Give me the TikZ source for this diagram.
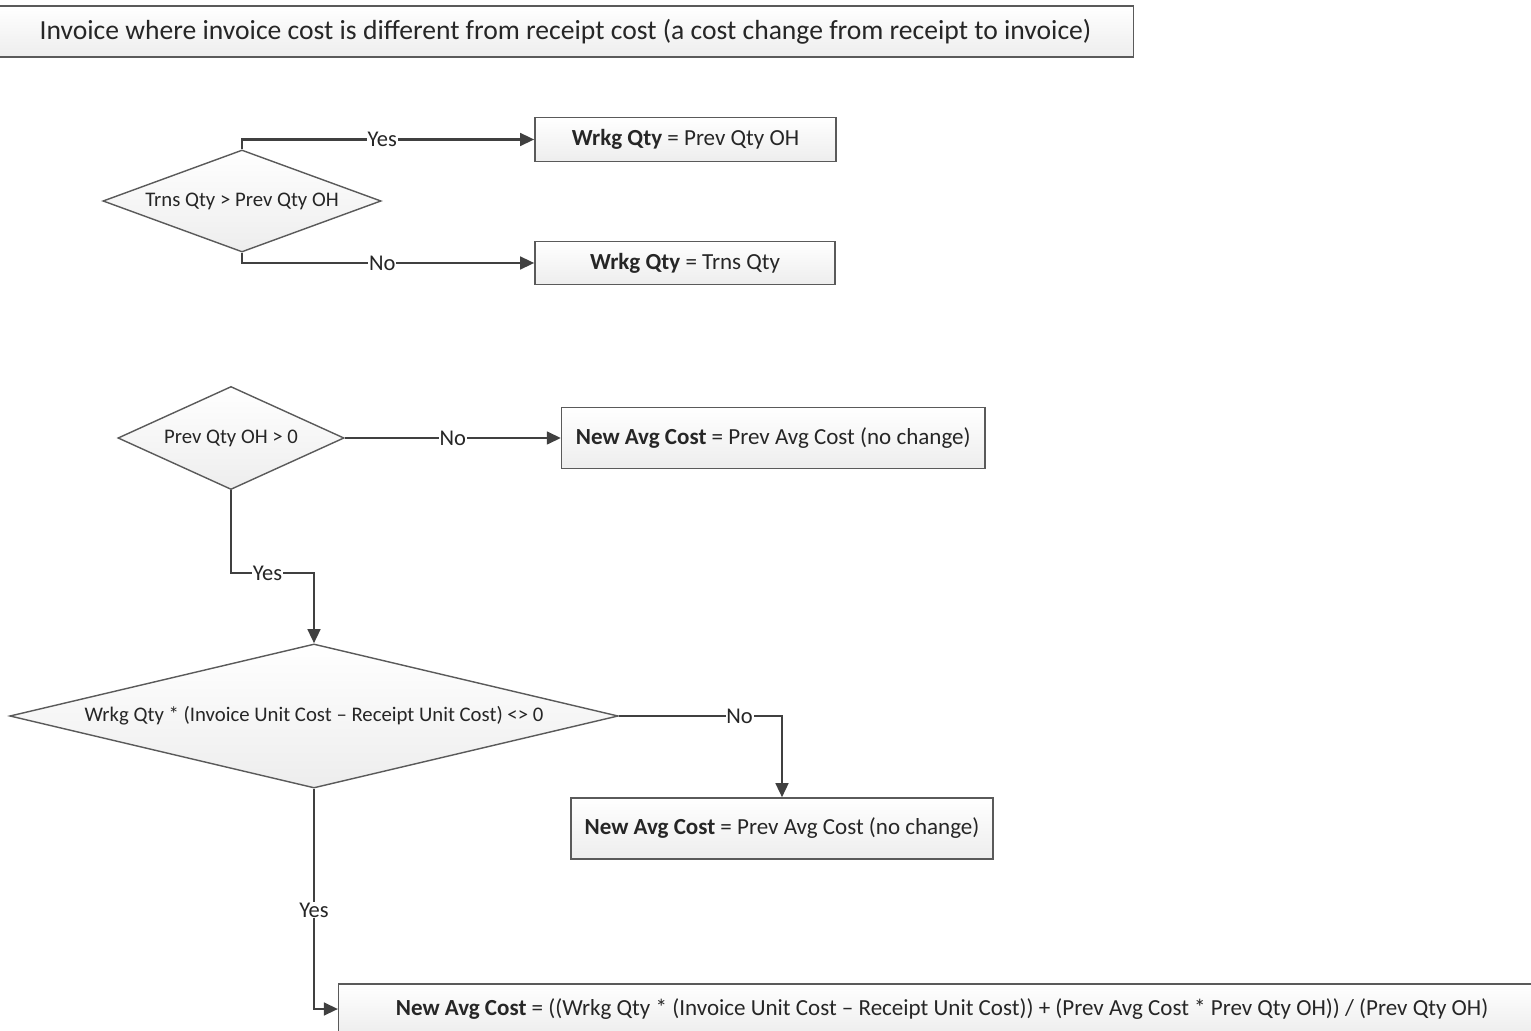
\documentclass[tikz,border=0pt]{standalone}
\usepackage{fontspec}
\setmainfont{Carlito}
\usepackage{xcolor}
\usetikzlibrary{shapes.geometric, arrows.meta, positioning, calc}
\definecolor{linegray}{HTML}{404040}
\definecolor{edgegray}{HTML}{5A5A5A}
\definecolor{txtgray}{HTML}{262626}
\tikzset{
  titlebox/.style={rectangle, draw=edgegray, line width=0.4pt, top color=white, bottom color=black!7, minimum height=0.51cm, align=center, font=\fontsize{7.85}{9}\selectfont, text=txtgray},
  procbox/.style={rectangle, draw=edgegray, line width=0.4pt, top color=white, bottom color=black!7, align=center, font=\fontsize{6.55}{8}\selectfont, text=txtgray},
  decbox/.style={diamond, draw=edgegray, line width=0.4pt, top color=white, bottom color=black!7, inner sep=0pt, align=center, font=\fontsize{5.9}{7}\selectfont, text=txtgray},
  arr/.style={-{Triangle[length=4pt, width=3.6pt]}, line width=0.7pt, draw=linegray},
  lbl/.style={fill=white, inner sep=0.2pt, font=\fontsize{6.4}{8}\selectfont, text=txtgray},
}

\begin{document}
\begin{tikzpicture}[x=0.01cm, y=-0.01cm]
  \useasboundingbox (0,0) rectangle (1531,1031);
  \fill[white] (0,0) rectangle (1531,1031);

  % Heading
  \node[titlebox, minimum width=11.35cm] (head) at (565.5,31.5) {Invoice where invoice cost is different from receipt cost (a cost change from receipt to invoice)};

  % Working quantity
  \node[decbox, aspect=2.7, minimum width=2.78cm, minimum height=1.02cm] (qty) at (242,201) {Trns Qty > Prev Qty OH};
  \node[procbox, minimum width=3.01cm, minimum height=0.41cm] (wrkprev) at (685.5,139.5) {\textbf{Wrkg Qty} = Prev Qty OH};
  \node[procbox, minimum width=3.00cm, minimum height=0.41cm] (wrktrns) at (685,263) {\textbf{Wrkg Qty} = Trns Qty};
  \draw[arr] (qty.north) |- node[lbl, pos=0.74] {Yes} (wrkprev.west);
  \draw[arr] (qty.south) |- node[lbl, pos=0.74] {No} (wrktrns.west);

  % Previous quantity on hand
  \node[decbox, aspect=2.2, minimum width=2.26cm, minimum height=1.03cm] (onhand) at (231,438) {Prev Qty OH > 0};
  \node[procbox, minimum width=4.23cm, minimum height=0.61cm, right=2.16cm of onhand] (avgsame1) {\textbf{New Avg Cost} = Prev Avg Cost (no change)};
  \draw[arr] (onhand.east) -- node[lbl] {No} (avgsame1.west);

  % Cost difference
  \node[decbox, aspect=4.2, minimum width=6.08cm, minimum height=1.44cm] (diff) at (314,716) {Wrkg Qty * (Invoice Unit Cost -- Receipt Unit Cost) <> 0};
  \draw[arr] (onhand.south) -- ++(0,83) -| node[lbl, pos=0.22] {Yes} (diff.north);
  \node[procbox, minimum width=4.22cm, minimum height=0.61cm] (avgsame2) at (782,828.5) {\textbf{New Avg Cost} = Prev Avg Cost (no change)};
  \draw[arr] (diff.east) -| node[lbl, pos=0.37] {No} (avgsame2.north);

  % New average cost
  \node[procbox, minimum width=12.06cm, minimum height=0.5cm] (avgnew) at (942,1009) {\textbf{New Avg Cost} = ((Wrkg Qty * (Invoice Unit Cost -- Receipt Unit Cost)) + (Prev Avg Cost * Prev Qty OH)) / (Prev Qty OH)};
  \draw[arr] (diff.south) |- node[lbl, pos=0.276] {Yes} (avgnew.west);
\end{tikzpicture}
\end{document}
